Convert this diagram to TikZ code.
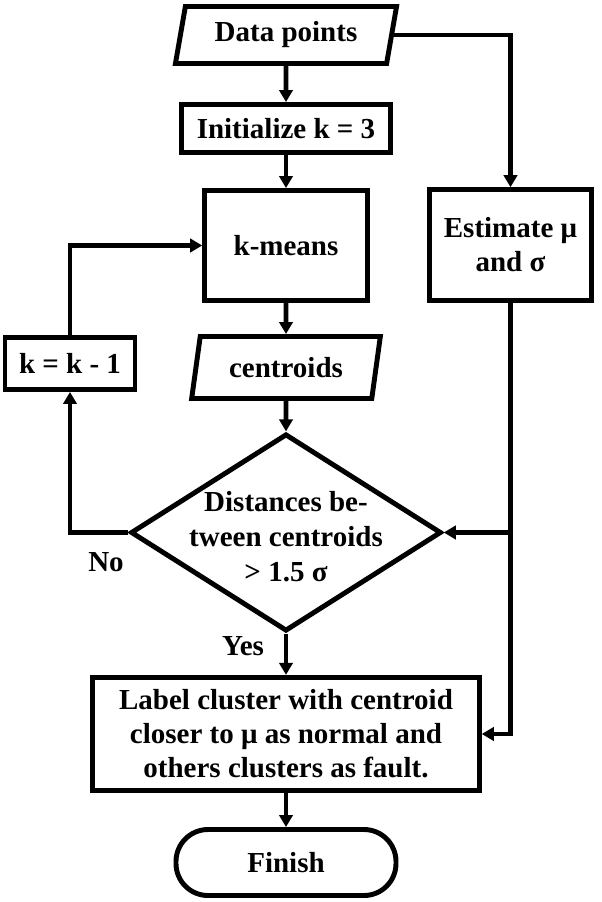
\documentclass[tikz,border=0pt]{standalone}
\usepackage{fontspec}
\setmainfont{Liberation Serif}
\usepackage{tikz}
\usetikzlibrary{arrows.meta,shapes.geometric}

\begin{document}
\begin{tikzpicture}[
        x=0.75pt, y=-0.75pt,
        every node/.style={font=\fontsize{21.75}{25.5}\selectfont\bfseries},
        box/.style={draw, line width=3.7pt, inner sep=2pt, align=center},
        io/.style={box, trapezium, trapezium left angle=77,
                   trapezium right angle=103, trapezium stretches=true},
        test/.style={draw, line width=3.7pt, diamond, inner sep=0pt,
                     minimum width=233pt, minimum height=148pt},
        term/.style={box, rounded corners=24pt},
        arr/.style={line width=3.7pt, -{Triangle[length=9pt, width=10pt]}},
        ln/.style={line width=3.7pt}
    ]
    \useasboundingbox (0,0) rectangle (602,902);

    % ---- Main column ----
    \node[io, minimum width=166pt, minimum height=42.75pt] (data) at (286,35) {Data points};
    \node[box, minimum width=157pt, minimum height=36pt] (init) at (286,128.5) {Initialize k = 3};
    \node[box, minimum width=122pt, minimum height=82.5pt] (kmeans) at (286,245.5) {k-means};
    \node[io, minimum width=142.5pt, minimum height=46.5pt] (cent) at (286,367.5) {centroids};
    \node[test] (dist) at (286,532.5) {};
    \node[align=center, font=\fontsize{21.75}{26.25}\selectfont\bfseries] (disttxt) at (286,537) {Distances be-\\tween centroids\\> 1.5 σ};
    \node[box, minimum width=290pt, minimum height=85pt] (label) at (286,734) {Label cluster with centroid\\closer to μ as normal and\\others clusters as fault.};
    \node[term, minimum width=165pt, minimum height=49.5pt] (finish) at (286,862.5) {Finish};

    % ---- Side boxes ----
    \node[box, minimum width=121.5pt, minimum height=83pt] (est) at (510.5,245) {Estimate μ\\and σ};
    \node[box, minimum width=97.5pt, minimum height=39pt] (dec) at (70,363.5) {k = k - 1};

    % ---- Branch labels ----
    \node (no) at (106,562) {No};
    \node (yes) at (243,646) {Yes};

    % ---- Connectors ----
    \draw[arr] (data) -- (init);
    \draw[arr] (init) -- (kmeans);
    \draw[arr] (kmeans) -- (cent);
    \draw[arr] (cent) -- (dist);
    \draw[arr] (dist) -- (label);
    \draw[arr] (label) -- (finish);
    \draw[arr] (data.east) -| (est.north);
    \draw[arr] (dist.west) -| (dec.south);
    \draw[arr] (dec.north) |- (kmeans.west);
    \coordinate (split) at (est.south |- dist.east);
    \draw[arr] (est.south) |- (label.east);
    \draw[arr] (split) -- (dist.east);
\end{tikzpicture}
\end{document}
